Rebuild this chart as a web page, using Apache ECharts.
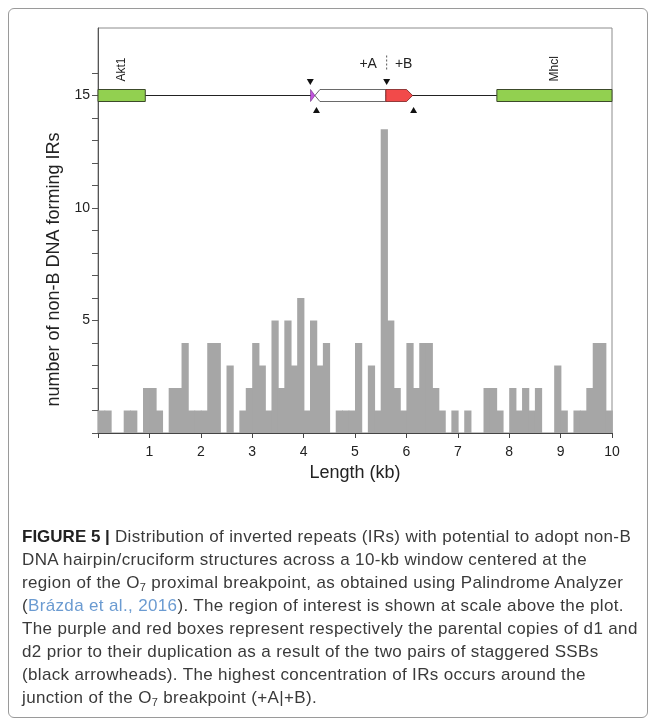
<!DOCTYPE html>
<html>
<head>
<meta charset="utf-8">
<script src="https://cdn.jsdelivr.net/npm/echarts@6/dist/echarts.min.js"></script>
<style>
  html, body { margin: 0; padding: 0; background: #fff; }
  #wrap { position: relative; width: 657px; height: 726px; overflow: hidden; }
  #frame { position: absolute; left: 8px; top: 8px; width: 640px; height: 710px;
           border: 1px solid #9a9a9a; border-radius: 6px; box-sizing: border-box; }
  #chart { position: absolute; left: 0; top: 0; width: 657px; height: 726px; }
  #caption { position: absolute; left: 22px; top: 525px; width: 630px;
             font-family: "Liberation Sans", Arial, sans-serif; font-size: 17px;
             letter-spacing: 0.35px;
             line-height: 23px; color: #3a3a3a; white-space: nowrap; }
  #caption b { color: #222; letter-spacing: 0; }
  #caption .ref { color: #6b9bd1; }
  #caption sub { font-size: 11px; vertical-align: -3px; line-height: 0; }
</style>
</head>
<body>
<div id="wrap">
  <div id="frame"></div>
  <div id="chart"></div>
  <div id="caption">
    <b>FIGURE 5 |</b> Distribution of inverted repeats (IRs) with potential to adopt non-B<br>
    DNA hairpin/cruciform structures across a 10-kb window centered at the<br>
    region of the O<sub>7</sub> proximal breakpoint, as obtained using Palindrome Analyzer<br>
    (<span class="ref">Brázda et al., 2016</span>). The region of interest is shown at scale above the plot.<br>
    The purple and red boxes represent respectively the parental copies of d1 and<br>
    d2 prior to their duplication as a result of the two pairs of staggered SSBs<br>
    (black arrowheads). The highest concentration of IRs occurs around the<br>
    junction of the O<sub>7</sub> breakpoint (+A|+B).
  </div>
</div>
<script>
// ---- data ----
const BIN_WIDTH = 0.125; // kb per histogram bin
const counts = [
  1, 1, 0, 0, 1, 1, 0, 2, 2, 1,
  0, 2, 2, 4, 1, 1, 1, 4, 4, 0,
  3, 0, 1, 2, 4, 3, 1, 5, 2, 5,
  3, 6, 1, 5, 3, 4, 0, 1, 1, 1,
  4, 0, 3, 1, 13.5, 5, 2, 1, 4, 2,
  4, 4, 2, 1, 0, 1, 0, 1, 0, 0,
  2, 2, 1, 0, 2, 1, 2, 1, 2, 0,
  0, 3, 1, 0, 1, 1, 2, 4, 4, 1
];
const xTickLabels = [1, 2, 3, 4, 5, 6, 7, 8, 9, 10];
const yTickLabels = [5, 10, 15];
const yTickMarks = [0, 1, 2, 3, 4, 5, 6, 7, 8, 9, 10, 11, 12, 13, 14, 15, 16];

// region diagram (kb positions, drawn at y = DIAGRAM_Y)
const DIAGRAM_Y = 15;
const geneNames = ['Akt1', 'Mhcl'];
const geneStart = [0, 7.76];
const geneEnd = [0.92, 10];
const d1Span = [4.135, 4.22];   // purple
const midSpan = [4.22, 5.60];   // white
const d2Span = [5.60, 6.12];    // red
const nickTop = [4.13, 5.616];  // ▼ arrowheads
const nickBottom = [4.25, 6.14];// ▲ arrowheads
const junctionX = 5.616;
const junctionLabels = ['+A', '+B'];

// ---- chart ----
const chart = echarts.init(document.getElementById('chart'), null, { renderer: 'canvas' });

const histData = counts.map((c, i) => [i * BIN_WIDTH, (i + 1) * BIN_WIDTH, c]);
const HALF = 6; // half height of diagram boxes in px

function diagramRender(params, api) {
  const c = (x) => api.coord([x, DIAGRAM_Y]);
  const y = c(0)[1];
  const children = [];
  children.push({ type: 'line', shape: { x1: c(0)[0], y1: y, x2: c(10)[0], y2: y },
    style: { stroke: '#222', lineWidth: 1.2 } });
  for (let g = 0; g < geneNames.length; g++) {
    const a = c(geneStart[g])[0], b = c(geneEnd[g])[0];
    children.push({ type: 'rect', shape: { x: a, y: y - HALF, width: b - a, height: 2 * HALF },
      style: { fill: '#92d050', stroke: '#3c4a2a', lineWidth: 1 } });
    children.push({ type: 'text', x: (a + b) / 2, y: y - 14, rotation: Math.PI / 2,
      style: { text: geneNames[g], align: 'left', verticalAlign: 'middle',
               font: '12px "Liberation Sans", Arial, sans-serif', fill: '#222' } });
  }
  const m0 = c(midSpan[0])[0], m1 = c(midSpan[1])[0];
  children.push({ type: 'polygon', shape: { points: [[m0, y], [m0 + 5, y - HALF], [m1, y - HALF], [m1, y + HALF], [m0 + 5, y + HALF]] },
    style: { fill: '#ffffff', stroke: '#444', lineWidth: 0.8 } });
  const p0 = c(d1Span[0])[0], p1 = c(d1Span[1])[0];
  children.push({ type: 'polygon', shape: { points: [[p0, y - HALF], [p1, y], [p0, y + HALF]] },
    style: { fill: '#c455e0', stroke: '#6a2a80', lineWidth: 0.6 } });
  const r0 = c(d2Span[0])[0], r1 = c(d2Span[1])[0];
  children.push({ type: 'polygon', shape: { points: [[r0, y - HALF], [r1 - 6, y - HALF], [r1, y], [r1 - 6, y + HALF], [r0, y + HALF]] },
    style: { fill: '#f24a4a', stroke: '#7a2020', lineWidth: 0.8 } });
  nickTop.forEach(x => {
    const px = c(x)[0];
    children.push({ type: 'polygon', shape: { points: [[px - 3.5, y - 16.5], [px + 3.5, y - 16.5], [px, y - 10.5]] }, style: { fill: '#111' } });
  });
  nickBottom.forEach(x => {
    const px = c(x)[0];
    children.push({ type: 'polygon', shape: { points: [[px - 3.5, y + 17.5], [px + 3.5, y + 17.5], [px, y + 11.5]] }, style: { fill: '#111' } });
  });
  const jx = c(junctionX)[0];
  children.push({ type: 'line', shape: { x1: jx, y1: y - 40, x2: jx, y2: y - 24 },
    style: { stroke: '#555', lineWidth: 1, lineDash: [2, 2] } });
  children.push({ type: 'text', x: jx - 18.5, y: y - 31,
    style: { text: junctionLabels[0], align: 'center', verticalAlign: 'middle',
             font: '14px "Liberation Sans", Arial, sans-serif', fill: '#222' } });
  children.push({ type: 'text', x: jx + 17, y: y - 31,
    style: { text: junctionLabels[1], align: 'center', verticalAlign: 'middle',
             font: '14px "Liberation Sans", Arial, sans-serif', fill: '#222' } });
  return { type: 'group', children };
}

const option = {
  animation: false,
  grid: { left: 98, right: 45, top: 28, bottom: 293, show: true,
          borderColor: '#8c8c8c', borderWidth: 1, backgroundColor: 'transparent' },
  xAxis: {
    type: 'value', min: 0, max: 10, interval: 1,
    axisLine: { show: true, onZero: false, lineStyle: { color: '#444', width: 1 } },
    axisTick: { show: true, inside: false, length: 5, lineStyle: { color: '#444' } },
    axisLabel: { color: '#222', fontSize: 14, margin: 12,
                 fontFamily: '"Liberation Sans", Arial, sans-serif',
                 formatter: v => (xTickLabels.indexOf(v) >= 0 ? String(v) : '') },
    splitLine: { show: false },
    name: 'Length (kb)', nameLocation: 'middle', nameGap: 31,
    nameTextStyle: { color: '#222', fontSize: 18, fontFamily: '"Liberation Sans", Arial, sans-serif' }
  },
  yAxis: {
    type: 'value', min: 0, max: 18, interval: 1,
    axisLine: { show: true, lineStyle: { color: '#555', width: 1 } },
    axisTick: { show: true, inside: false, length: 6, customValues: yTickMarks, lineStyle: { color: '#555' } },
    axisLabel: { color: '#222', fontSize: 14, margin: 8, customValues: yTickLabels,
                 fontFamily: '"Liberation Sans", Arial, sans-serif' },
    splitLine: { show: false },
    name: 'number of non-B DNA forming IRs', nameLocation: 'middle', nameGap: 31,
    nameTextStyle: { color: '#222', fontSize: 18, padding: [0, 78, 0, 0],
                     fontFamily: '"Liberation Sans", Arial, sans-serif' }
  },
  series: [
    {
      type: 'custom', name: 'IRs',
      data: histData,
      encode: { x: [0, 1], y: 2 },
      renderItem: (params, api) => {
        const v = api.value(2);
        if (!v) return null;
        const tl = api.coord([api.value(0), v]);
        const br = api.coord([api.value(1), 0]);
        return { type: 'rect', shape: { x: tl[0], y: tl[1], width: br[0] - tl[0] + 0.8, height: br[1] - tl[1] },
                 style: { fill: '#a6a6a6' } };
      }
    },
    {
      type: 'custom', name: 'region',
      data: [[0, DIAGRAM_Y]],
      encode: { x: 0, y: 1 },
      renderItem: diagramRender,
      z: 5
    }
  ]
};
chart.setOption(option);
</script>
</body>
</html>
